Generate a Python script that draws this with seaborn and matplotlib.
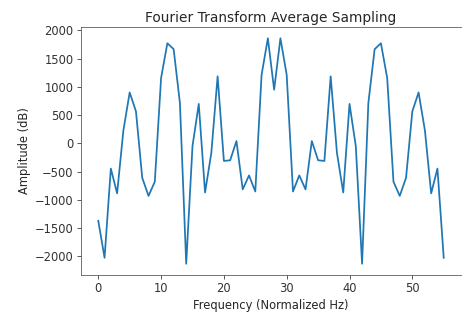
import numpy as np
import pandas as pd
import matplotlib
matplotlib.use("Agg")
import matplotlib.pyplot as plt
import seaborn as sns

freq = list(range(56))
amplitude = [-1370, -2025, -447, -885, 230, 900, 565, -610, -930, -680,
             1155, 1770, 1665, 712, -2130, -50, 697, -870, -170, 1185,
             -312, -300, 40, -815, -568, -852, 1210, 1858, 948, 1858,
             1210, -852, -568, -815, 40, -300, -312, 1185, -170, -870,
             697, -50, -2130, 712, 1665, 1770, 1155, -680, -930, -610,
             565, 900, 230, -885, -447, -2025]

title = "Fourier Transform Average Sampling"
xlabel = "Frequency (Normalized Hz)"
ylabel = "Amplitude (dB)"

df = pd.DataFrame({"freq": freq, "amp": amplitude})

plt.rcParams['font.family'] = ['DejaVu Sans']
fig = plt.figure(figsize=(462/72, 320/72), dpi=72)
ax = fig.add_axes([81/462, 1-275/320, (461-81)/462, (275-27)/320])
sns.lineplot(data=df, x="freq", y="amp", ax=ax, color="#1f77b4", linewidth=1.75)
ax.set_title(title, fontsize=13.8, color="#262626", pad=5)
ax.set_xlabel(xlabel, fontsize=11.5, color="#262626", labelpad=4)
ax.set_ylabel(ylabel, fontsize=11.5, color="#262626", labelpad=4)
ax.set_xticks([0, 10, 20, 30, 40, 50])
ax.set_yticks([-2000, -1500, -1000, -500, 0, 500, 1000, 1500, 2000])
ax.tick_params(labelsize=11.5, colors="#333333", length=4)
for s in ax.spines.values():
    s.set_color("#555555")
ax.spines['right'].set_visible(False)
fig.savefig("out.png", dpi=72)
